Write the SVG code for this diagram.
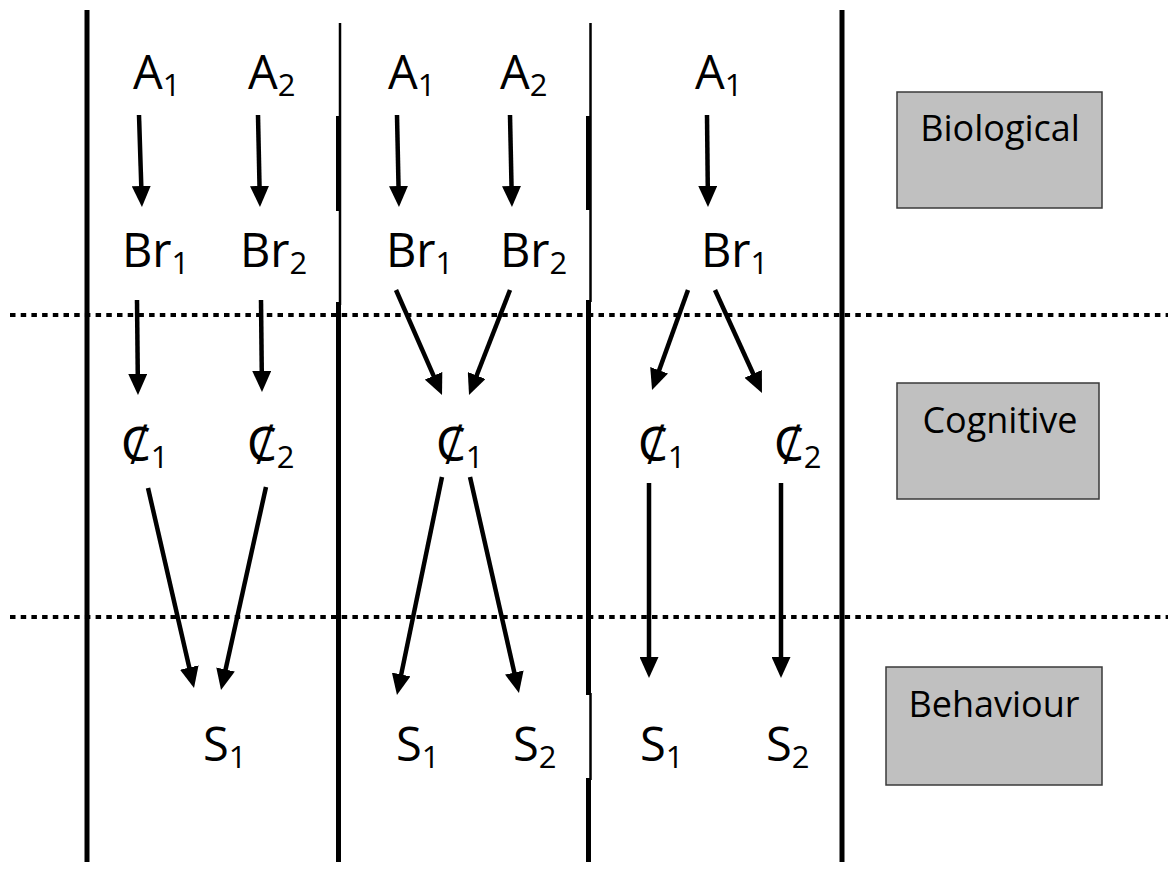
<svg xmlns="http://www.w3.org/2000/svg" width="1168" height="872" viewBox="0 0 1168 872">
  <style>
    .sym { font-family: "Open Sans", "Noto Sans", "DejaVu Sans", sans-serif; font-size: 47px; fill: #000; }
    .sub { font-size: 31px; }
    .lbl { font-family: "Open Sans", "Noto Sans", sans-serif; font-size: 36px; fill: #000; text-anchor: middle; }
    .box { fill: #c0c0c0; stroke: #3a3a3a; stroke-width: 1.5; }
    .arrow { stroke: #000; stroke-width: 4.5; fill: none; marker-end: url(#head); }
    .dots { stroke: #000; stroke-width: 4; stroke-dasharray: 5.5 5.2; fill: none; }
    .wall { stroke: #000; stroke-width: 5; fill: none; }
    .thin { stroke: #000; stroke-width: 2.5; fill: none; }
  </style>
  <defs>
    <marker id="head" markerUnits="userSpaceOnUse" viewBox="0 0 21 19" refX="4" refY="9.5" markerWidth="21" markerHeight="19" orient="auto">
      <path d="M0,0 L21,9.5 L0,19 Z" fill="#000"/>
    </marker>
  </defs>
  <rect width="1168" height="872" fill="#fff"/>

  <!-- level separators -->
  <g id="separators">
    <line class="dots" x1="10" y1="315" x2="1168" y2="315"/>
    <line class="dots" x1="10" y1="617" x2="1168" y2="617"/>
  </g>

  <!-- column walls -->
  <g id="walls">
    <line class="wall" x1="87" y1="10" x2="87" y2="862"/>
    <line class="thin" x1="340" y1="23" x2="340" y2="305"/>
    <line class="wall" x1="338.5" y1="116" x2="338.5" y2="211"/>
    <line class="wall" x1="338.5" y1="302" x2="338.5" y2="862"/>
    <line class="thin" x1="590.5" y1="23" x2="590.5" y2="302"/>
    <line class="wall" x1="588.5" y1="116" x2="588.5" y2="210"/>
    <line class="wall" x1="588.5" y1="300" x2="588.5" y2="695"/>
    <line class="thin" x1="590.5" y1="693" x2="590.5" y2="780"/>
    <line class="wall" x1="588.5" y1="778" x2="588.5" y2="862"/>
    <line class="wall" x1="842" y1="10" x2="842" y2="862"/>
  </g>

  <!-- column 1 -->
  <g id="c1-A1"><text class="sym" x="133" y="89">A<tspan class="sub" dy="7">1</tspan></text></g>
  <g id="c1-A2"><text class="sym" x="248" y="89">A<tspan class="sub" dy="7">2</tspan></text></g>
  <g id="c1-Br1"><text class="sym" x="122" y="267">Br<tspan class="sub" dy="7">1</tspan></text></g>
  <g id="c1-Br2"><text class="sym" x="240" y="267">Br<tspan class="sub" dy="7">2</tspan></text></g>
  <g id="c1-C1"><text class="sym" x="121" y="461">Ȼ<tspan class="sub" dy="7">1</tspan></text></g>
  <g id="c1-C2"><text class="sym" x="247" y="461">Ȼ<tspan class="sub" dy="7">2</tspan></text></g>
  <g id="c1-S1"><text class="sym" x="203" y="761">S<tspan class="sub" dy="7">1</tspan></text></g>

  <!-- column 2 -->
  <g id="c2-A1"><text class="sym" x="388" y="89">A<tspan class="sub" dy="7">1</tspan></text></g>
  <g id="c2-A2"><text class="sym" x="500" y="89">A<tspan class="sub" dy="7">2</tspan></text></g>
  <g id="c2-Br1"><text class="sym" x="386" y="267">Br<tspan class="sub" dy="7">1</tspan></text></g>
  <g id="c2-Br2"><text class="sym" x="500" y="267">Br<tspan class="sub" dy="7">2</tspan></text></g>
  <g id="c2-C1"><text class="sym" x="436" y="461">Ȼ<tspan class="sub" dy="7">1</tspan></text></g>
  <g id="c2-S1"><text class="sym" x="396" y="761">S<tspan class="sub" dy="7">1</tspan></text></g>
  <g id="c2-S2"><text class="sym" x="513" y="761">S<tspan class="sub" dy="7">2</tspan></text></g>

  <!-- column 3 -->
  <g id="c3-A1"><text class="sym" x="695" y="89">A<tspan class="sub" dy="7">1</tspan></text></g>
  <g id="c3-Br1"><text class="sym" x="701" y="267">Br<tspan class="sub" dy="7">1</tspan></text></g>
  <g id="c3-C1"><text class="sym" x="638" y="461">Ȼ<tspan class="sub" dy="7">1</tspan></text></g>
  <g id="c3-C2"><text class="sym" x="774" y="461">Ȼ<tspan class="sub" dy="7">2</tspan></text></g>
  <g id="c3-S1"><text class="sym" x="640" y="761">S<tspan class="sub" dy="7">1</tspan></text></g>
  <g id="c3-S2"><text class="sym" x="766" y="761">S<tspan class="sub" dy="7">2</tspan></text></g>

  <!-- level labels -->
  <g id="biological">
    <rect class="box" x="897" y="92" width="205" height="116"/>
    <text class="lbl" x="1000" y="141">Biological</text>
  </g>
  <g id="cognitive">
    <rect class="box" x="897" y="383" width="202" height="116"/>
    <text class="lbl" x="1000" y="433">Cognitive</text>
  </g>
  <g id="behaviour">
    <rect class="box" x="886" y="667" width="216" height="118"/>
    <text class="lbl" x="994" y="717">Behaviour</text>
  </g>

  <!-- connectors -->
  <g id="connectors">
    <line class="arrow" x1="139" y1="115" x2="141.4" y2="190"/>
    <line class="arrow" x1="258" y1="115" x2="259.6" y2="190"/>
    <line class="arrow" x1="137" y1="300" x2="137.8" y2="378"/>
    <line class="arrow" x1="261" y1="300" x2="261.8" y2="375"/>
    <line class="arrow" x1="148" y1="488" x2="190.2" y2="671.4"/>
    <line class="arrow" x1="266" y1="487" x2="224.7" y2="673.4"/>

    <line class="arrow" x1="397" y1="115" x2="398.6" y2="190"/>
    <line class="arrow" x1="510" y1="115" x2="511.6" y2="190"/>
    <line class="arrow" x1="396" y1="290" x2="435.2" y2="379.4"/>
    <line class="arrow" x1="510" y1="290" x2="475.2" y2="379.2"/>
    <line class="arrow" x1="442" y1="477" x2="400.4" y2="678.4"/>
    <line class="arrow" x1="470" y1="477" x2="515.2" y2="676.4"/>

    <line class="arrow" x1="707" y1="115" x2="707.8" y2="190"/>
    <line class="arrow" x1="688" y1="290" x2="657.8" y2="374"/>
    <line class="arrow" x1="715" y1="290" x2="754.9" y2="377.5"/>
    <line class="arrow" x1="649" y1="483" x2="649" y2="661"/>
    <line class="arrow" x1="781" y1="483" x2="781" y2="661"/>
  </g>
</svg>
